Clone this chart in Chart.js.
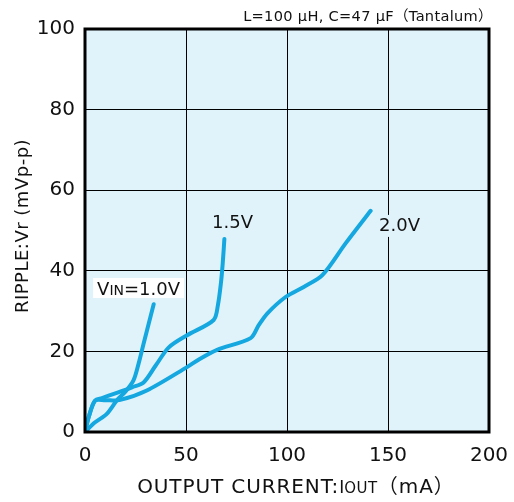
<!DOCTYPE html>
<html>
<head>
<meta charset="utf-8">
<script src="https://cdn.jsdelivr.net/npm/chart.js@4"></script>
<style>
  html, body { margin: 0; padding: 0; background: #fff; }
  #wrap { width: 514px; height: 502px; }
</style>
</head>
<body>
<div id="wrap"><canvas id="c" width="514" height="502"></canvas></div>
<script>
// ---- data ----
const xTicks = [0, 50, 100, 150, 200];
const yTicks = [0, 20, 40, 60, 80, 100];

const iout10 = [0, 5, 10.8, 16, 20, 24, 26.5, 29, 34];
const ripple10 = [0, 2.4, 4.5, 8, 10, 12.8, 16.9, 21.9, 31.7];

const iout15 = [0, 2, 5, 8.4, 15, 23.3, 29, 35, 41.5, 50.5, 63.7, 65.8, 67.3, 68.2, 69];
const ripple15 = [0, 4, 7.8, 8.4, 9.6, 11.1, 12.3, 16.5, 21, 24, 27.8, 31.5, 37, 42, 47.9];

const iout20 = [0, 2, 5, 10, 17, 30.6, 50.5, 57, 65.4, 82, 86, 90.2, 99.3, 108.3, 117.5, 129, 141.4];
const ripple20 = [0, 4, 7.8, 7.9, 7.9, 10.3, 16.1, 18.2, 20.4, 23.3, 26.5, 29.4, 33.5, 36, 38.9, 46.8, 54.9];

const seriesNames = ['1.0V', '1.5V', '2.0V'];

// ---- styles ----
const FONT = '"DejaVu Sans", "Noto Sans CJK JP", sans-serif';
const LINE = '#15a7df';
const PLOT_BG = '#e1f3fa';
const TXT = '#111111';

function pts(xs, ys) { return xs.map((x, i) => ({ x: x, y: ys[i] })); }

function setFont(ctx, p) {
  ctx.font = p.s + 'px ' + FONT;
  ctx.letterSpacing = (p.ls || 0) + 'px';
}
function richWidth(ctx, parts) {
  let w = 0;
  for (const p of parts) { setFont(ctx, p); w += ctx.measureText(p.t).width; }
  return w;
}
function drawRich(ctx, parts, x, y) {
  let cx = x;
  for (const p of parts) {
    setFont(ctx, p);
    ctx.fillText(p.t, cx, y);
    cx += ctx.measureText(p.t).width;
  }
  ctx.letterSpacing = '0px';
  return cx;
}

const deco = {
  id: 'deco',
  beforeDraw(chart) {
    const { ctx, chartArea: a } = chart;
    ctx.save();
    ctx.fillStyle = '#fff';
    ctx.fillRect(0, 0, chart.width, chart.height);
    ctx.fillStyle = PLOT_BG;
    ctx.fillRect(a.left, a.top, a.right - a.left, a.bottom - a.top);
    ctx.restore();
  },
  beforeDatasetsDraw(chart) {
    const { ctx } = chart;
    const xs = chart.scales.x, ys = chart.scales.y;
    ctx.save();
    ctx.textAlign = 'left';
    ctx.textBaseline = 'alphabetic';
    ctx.fillStyle = TXT;
    // VIN=1.0V label (white box)
    {
      const parts = [{ t: 'V', s: 18 }, { t: 'IN', s: 14 }, { t: '=1.0V', s: 18 }];
      const px = xs.getPixelForValue(6), py = ys.getPixelForValue(34);
      const w = richWidth(ctx, parts);
      ctx.fillStyle = '#ffffff';
      ctx.fillRect(px - 4, py - 17, w + 8, 20);
      ctx.fillStyle = TXT;
      drawRich(ctx, parts, px, py);
    }
    // 1.5V label
    {
      const px = xs.getPixelForValue(62.9), py = ys.getPixelForValue(50.6);
      drawRich(ctx, [{ t: seriesNames[1], s: 18 }], px, py);
    }
    // 2.0V label (box masks grid line)
    {
      const px = xs.getPixelForValue(145.6), py = ys.getPixelForValue(49.9);
      const parts = [{ t: seriesNames[2], s: 18 }];
      const w = richWidth(ctx, parts);
      ctx.fillStyle = PLOT_BG;
      ctx.fillRect(px - 3, py - 16, w + 6, 22);
      ctx.fillStyle = TXT;
      drawRich(ctx, parts, px, py);
    }
    ctx.restore();
  },
  afterDraw(chart) {
    const { ctx, chartArea: a } = chart;
    ctx.save();
    // plot border
    ctx.strokeStyle = '#000';
    ctx.lineWidth = 3;
    ctx.strokeRect(a.left, a.top, a.right - a.left, a.bottom - a.top);
    ctx.fillStyle = TXT;
    ctx.textBaseline = 'alphabetic';
    // top-right note
    {
      const parts = [{ t: 'L=100 \u03bcH, C=47 \u03bcF\uff08Tantalum\uff09', s: 14.6, ls: 0.3 }];
      const w = richWidth(ctx, parts);
      drawRich(ctx, parts, 493 - w, 21);
    }
    // x-axis title
    {
      const parts = [{ t: 'OUTPUT CURRENT:', s: 20, ls: 0.9 }, { t: 'I', s: 17 }, { t: 'OUT', s: 15, ls: 0.5 },
                     { t: '\uff08mA\uff09', s: 20, ls: 1 }];
      const w = richWidth(ctx, parts);
      const cx = (a.left + a.right) / 2 + 9;
      drawRich(ctx, parts, cx - w / 2, 493);
    }
    // y-axis title
    {
      ctx.translate(28, 226);
      ctx.rotate(-Math.PI / 2);
      const parts = [{ t: 'RIPPLE:Vr (mVp-p)', s: 18, ls: 0.5 }];
      const w = richWidth(ctx, parts);
      drawRich(ctx, parts, -w / 2, 0);
    }
    ctx.restore();
  }
};

const dsStyle = {
  borderColor: LINE, borderWidth: 4, pointRadius: 0, tension: 0.3,
  borderCapStyle: 'round', borderJoinStyle: 'round', fill: false
};

new Chart(document.getElementById('c'), {
  type: 'line',
  data: {
    datasets: [
      Object.assign({ label: seriesNames[0], data: pts(iout10, ripple10) }, dsStyle),
      Object.assign({ label: seriesNames[1], data: pts(iout15, ripple15) }, dsStyle),
      Object.assign({ label: seriesNames[2], data: pts(iout20, ripple20) }, dsStyle)
    ]
  },
  options: {
    responsive: false,
    animation: false,
    devicePixelRatio: 1,
    layout: { padding: { top: 29, right: 25, left: 0, bottom: 0 } },
    plugins: { legend: { display: false }, tooltip: { enabled: false }, title: { display: false } },
    scales: {
      x: {
        type: 'linear', min: xTicks[0], max: xTicks[xTicks.length - 1],
        afterBuildTicks(s) { s.ticks = xTicks.map(v => ({ value: v })); },
        afterFit(s) { s.height = 70; s.paddingLeft = 0; s.paddingRight = 0; },
        grid: { color: '#000', lineWidth: 1, drawTicks: false },
        border: { display: false },
        ticks: { padding: 12, color: TXT, font: { family: FONT, size: 20 }, maxRotation: 0 }
      },
      y: {
        type: 'linear', min: yTicks[0], max: yTicks[yTicks.length - 1],
        afterBuildTicks(s) { s.ticks = yTicks.map(v => ({ value: v })); },
        afterFit(s) { s.width = 85; s.paddingTop = 0; s.paddingBottom = 0; },
        grid: { color: '#000', lineWidth: 1, drawTicks: false },
        border: { display: false },
        ticks: { padding: 10, color: TXT, font: { family: FONT, size: 20 } }
      }
    }
  },
  plugins: [deco]
});
</script>
</body>
</html>
